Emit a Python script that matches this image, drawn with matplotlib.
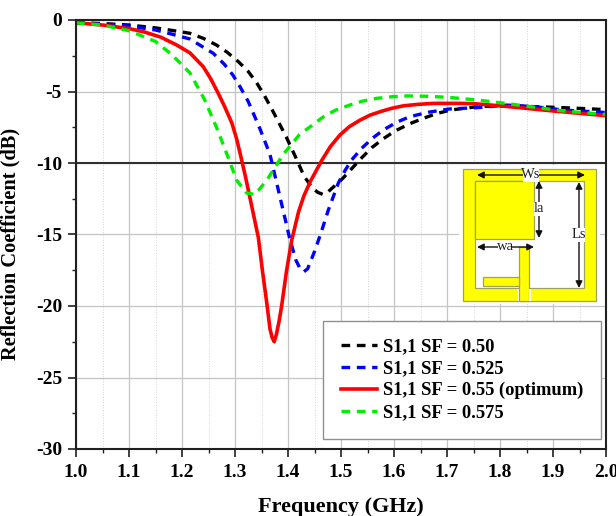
# Reflection coefficient vs frequency for four scale factors
import matplotlib
matplotlib.use('Agg')
import matplotlib.pyplot as plt
from matplotlib.patches import Rectangle
from matplotlib.ticker import MultipleLocator

plt.rcParams['font.family'] = ['Liberation Serif', 'DejaVu Serif']
plt.rcParams['font.weight'] = 'bold'

# values
f_black = [1.0, 1.05, 1.1, 1.15, 1.18, 1.215, 1.24, 1.265, 1.285, 1.306, 1.325, 1.341, 1.355, 1.369, 1.383, 1.397,
           1.417, 1.43, 1.445, 1.456, 1.466, 1.476, 1.488, 1.504, 1.52, 1.54, 1.558, 1.58, 1.602, 1.63, 1.655, 1.68,
           1.706, 1.757, 1.81, 1.866, 1.92, 1.973, 2.0]
s_black = [-0.2, -0.25, -0.35, -0.55, -0.72, -0.93, -1.28, -1.75, -2.25, -2.9, -3.6, -4.4, -5.25, -6.2, -7.2, -8.2,
           -9.8, -10.9, -11.7, -12.05, -12.2, -12.0, -11.6, -11.05, -10.4, -9.6, -8.93, -8.3, -7.76, -7.25, -6.88,
           -6.55, -6.3, -6.06, -6.0, -6.06, -6.13, -6.22, -6.27]
f_blue = [1.0, 1.05, 1.1, 1.15, 1.18, 1.215, 1.24, 1.259, 1.28, 1.296, 1.31, 1.325, 1.347, 1.366, 1.385, 1.404,
          1.415, 1.423, 1.43, 1.437, 1.451, 1.463, 1.476, 1.495, 1.508, 1.52, 1.539, 1.56, 1.58, 1.605, 1.63, 1.665,
          1.705, 1.757, 1.813, 1.866, 1.92, 1.973, 2.0]
s_blue = [-0.2, -0.27, -0.42, -0.7, -0.98, -1.33, -1.9, -2.33, -3.1, -3.85, -4.7, -5.7, -7.6, -9.4, -12.4, -15.4,
          -16.8, -17.4, -17.6, -17.4, -16.1, -14.8, -13.3, -11.4, -10.5, -9.79, -8.97, -8.25, -7.69, -7.15, -6.76,
          -6.45, -6.22, -6.13, -5.95, -6.06, -6.3, -6.41, -6.47]
f_red = [1.0, 1.05, 1.1, 1.13, 1.16, 1.19, 1.215, 1.24, 1.254, 1.268, 1.281, 1.294, 1.303, 1.312, 1.32, 1.328, 1.336,
         1.344, 1.352, 1.36, 1.366, 1.37, 1.374, 1.378, 1.383, 1.388, 1.397, 1.407, 1.42, 1.43, 1.442, 1.464, 1.48,
         1.498, 1.516, 1.536, 1.555, 1.574, 1.595, 1.618, 1.645, 1.674, 1.725, 1.75, 1.8, 1.85, 1.9, 1.951, 2.0]
s_red = [-0.2, -0.35, -0.6, -0.85, -1.2, -1.75, -2.3, -3.26, -4.1, -5.1, -6.1, -7.2, -8.3, -9.7, -11.0, -12.4, -13.8,
         -15.2, -17.6, -19.8, -21.6, -22.2, -22.5, -22.0, -21.1, -20.0, -17.6, -15.4, -13.4, -12.3, -11.3, -9.8,
         -8.85, -8.04, -7.45, -7.0, -6.65, -6.41, -6.18, -6.0, -5.9, -5.83, -5.83, -5.85, -6.0, -6.18, -6.36, -6.53,
         -6.69]
f_green = [1.0, 1.05, 1.1, 1.15, 1.18, 1.215, 1.243, 1.265, 1.287, 1.303, 1.322, 1.338, 1.36, 1.391, 1.422, 1.442,
           1.467, 1.49, 1.517, 1.54, 1.567, 1.595, 1.624, 1.66, 1.703, 1.756, 1.81, 1.866, 1.92, 1.973, 2.0]
s_green = [-0.2, -0.35, -0.75, -1.5, -2.4, -3.7, -5.6, -7.5, -9.6, -11.2, -12.1, -12.2, -11.2, -9.4, -8.0, -7.46,
           -6.76, -6.3, -5.94, -5.68, -5.48, -5.37, -5.31, -5.33, -5.41, -5.59, -5.83, -6.1, -6.36, -6.53, -6.62]
labels = ['S1,1 SF = 0.50', 'S1,1 SF = 0.525', 'S1,1 SF = 0.55 (optimum)', 'S1,1 SF = 0.575']
x_ticks = [1.0, 1.1, 1.2, 1.3, 1.4, 1.5, 1.6, 1.7, 1.8, 1.9, 2.0]
y_ticks = [0, -5, -10, -15, -20, -25, -30]

W, H = 616, 516
fig = plt.figure(figsize=(W / 100, H / 100), dpi=100)
L, R, T, B = 76, 606, 20, 449
ax = fig.add_axes([L / W, 1 - B / H, (R - L) / W, (B - T) / H])
ax.set_xlim(1.0, 2.0)
ax.set_ylim(-30, 0)

# grid
ax.set_xticks(x_ticks)
ax.set_yticks(y_ticks)
ax.set_xticklabels(['%.1f' % v for v in x_ticks])
ax.set_yticklabels([str(v) for v in y_ticks])
ax.xaxis.set_minor_locator(MultipleLocator(0.05))
ax.yaxis.set_minor_locator(MultipleLocator(2.5))
ax.grid(which='major', color='#c4c4c4', lw=0.9)
ax.grid(which='minor', axis='x', color='#d6d6d6', lw=0.7, ls=':')
ax.set_axisbelow(True)
ax.axhline(-10, color='#303030', lw=1.5, zorder=1.5)

ax.tick_params(which='major', length=6, width=1.2, labelsize=14, color='#202020')
ax.tick_params(axis='x', which='major', pad=5)
ax.tick_params(axis='y', which='major', pad=4)
ax.tick_params(which='minor', length=3, width=1.0, color='#202020')
for s in ax.spines.values():
    s.set_linewidth(1.5)
    s.set_color('#202020')

dash = (0, (2.6, 2.0))
ax.plot(f_black, s_black, color='black', lw=2.4, ls=dash, label=labels[0])
ax.plot(f_blue, s_blue, color='#0000ff', lw=2.4, ls=dash, label=labels[1])
ax.plot(f_red, s_red, color='#ff0000', lw=2.6, solid_joinstyle='round', label=labels[2])
ax.plot(f_green, s_green, color='#00ee00', lw=2.4, ls=dash, label=labels[3])

ax.set_xlabel('Frequency (GHz)', fontsize=16, fontweight='bold', labelpad=11.5)
ax.set_ylabel('Reflection Coefficient (dB)', fontsize=14.7, fontweight='bold')
ax.yaxis.set_label_coords((20 - L) / (R - L), (B - 243.5) / (B - T))

# overlay in pixel coordinates for the antenna drawing
ov = fig.add_axes([0, 0, 1, 1], facecolor='none')
ov.set_xlim(0, W)
ov.set_ylim(H, 0)
ov.axis('off')

leg = ax.legend(loc='upper left', bbox_to_anchor=((323 - L) / (R - L), (449 - 321) / (B - T)),
                borderaxespad=0, frameon=True, fancybox=False, framealpha=1, edgecolor='#909090',
                fontsize=13.3, labelspacing=0.26, handlelength=2.0, handletextpad=0.3,
                borderpad=0.95)
leg.get_frame().set_linewidth(1.0)
leg.set_zorder(5)


def rect(x0, y0, x1, y1, fc, ec='none', lw=0.0, z=2):
    ov.add_patch(Rectangle((x0, y0), x1 - x0, y1 - y0, facecolor=fc, edgecolor=ec, linewidth=lw, zorder=z))


def arrow(x0, y0, x1, y1):
    ov.annotate('', xy=(x1, y1), xytext=(x0, y0), zorder=6,
                arrowprops=dict(arrowstyle='<|-|>', color='#101010', lw=1.0, mutation_scale=10,
                                shrinkA=0, shrinkB=0))


yellow = '#ffff00'
edge = '#a0a060'
rect(459, 165, 600, 304, 'white')
rect(462.5, 168.5, 596, 301, yellow, edge, 0.9)
rect(475, 181, 583.5, 288, 'white', edge, 0.9)
rect(475, 181, 534, 239, yellow, edge, 0.9)
rect(519, 247, 529, 301, yellow, edge, 0.9)
rect(483, 277, 519, 286, yellow, edge, 0.9)
rect(517.5, 288.5, 519, 301, 'white')
rect(529, 288.5, 530.5, 301, 'white')

arrow(477, 175, 585, 175)
arrow(539, 181, 539, 238)
arrow(579, 182, 579, 288)
arrow(477, 247, 534, 247)


def tag(x, y, s, w, h):
    rect(x - w / 2, y - h / 2, x + w / 2, y + h / 2, 'white', z=7)
    ov.text(x, y, s, ha='center', va='center', fontsize=10.5, fontweight='normal', color='#202020', zorder=8)


tag(531, 175, 'Ws', 16, 14)
tag(539, 209, 'la', 10, 14)
tag(579, 235, 'Ls', 12, 14)
tag(505, 247, 'wa', 14, 10)

fig.savefig('out.png', dpi=100)
